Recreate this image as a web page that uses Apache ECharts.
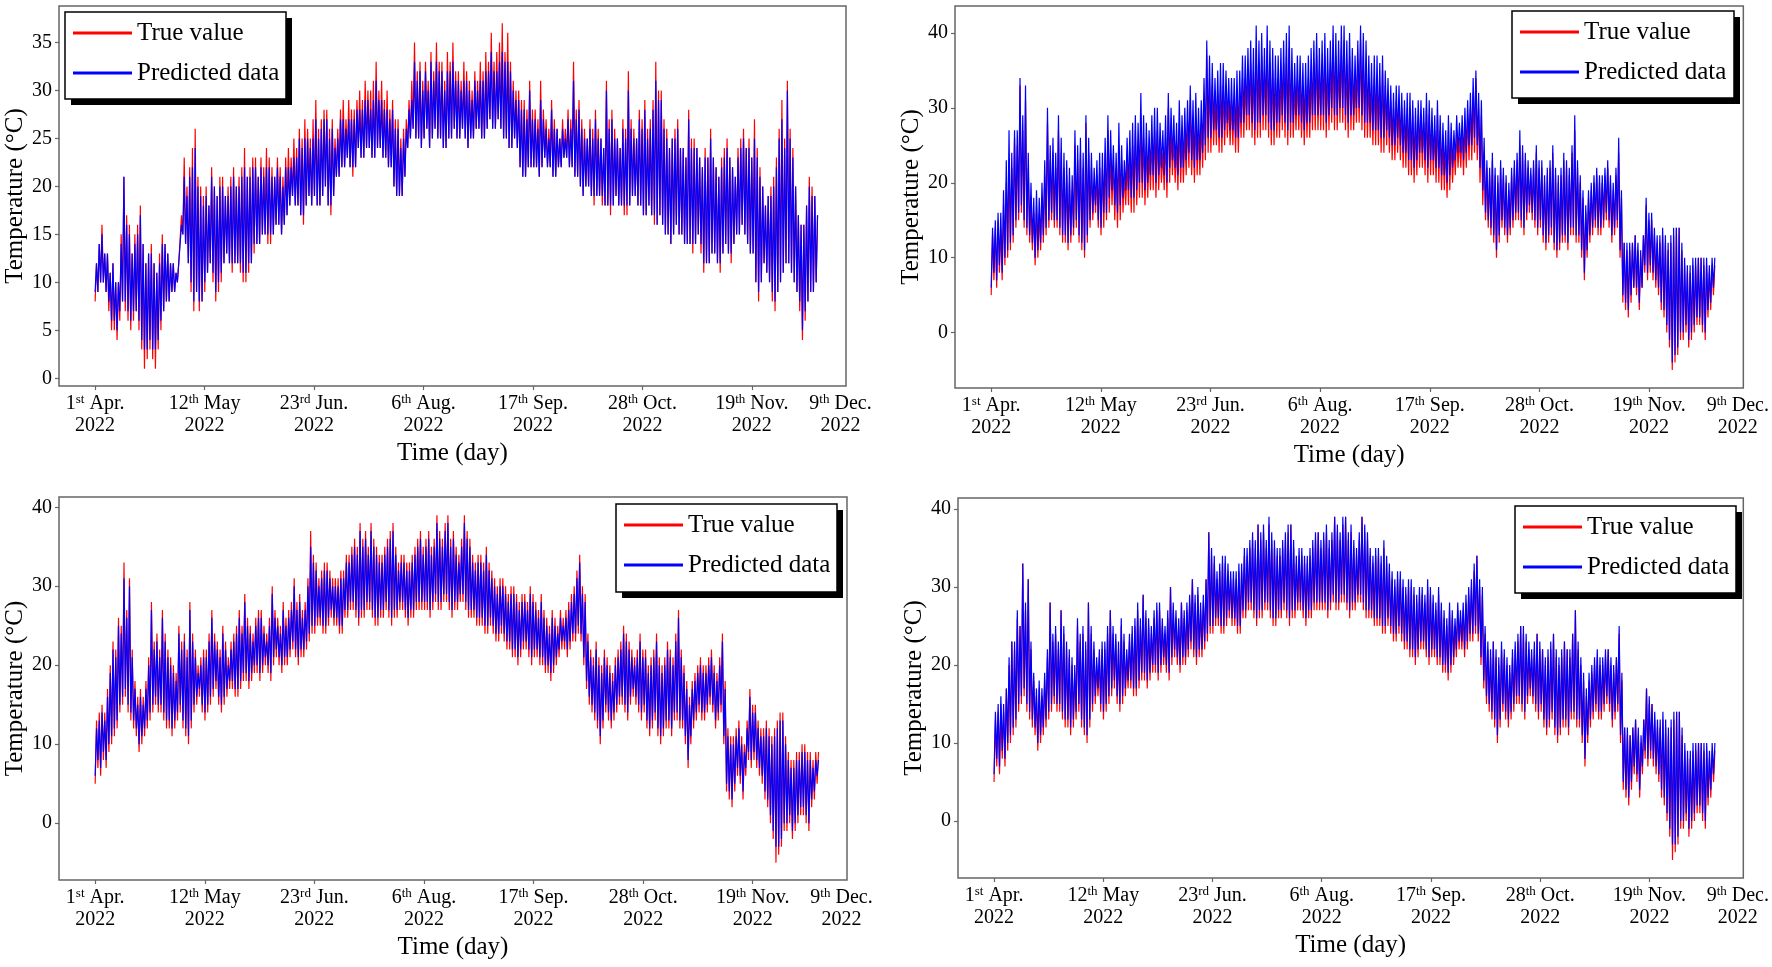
<!DOCTYPE html>
<html>
<head>
<meta charset="utf-8">
<title>True value vs predicted data</title>
<script src="https://cdn.jsdelivr.net/npm/echarts@6/dist/echarts.min.js"></script>
<style>
html, body { margin: 0; padding: 0; background: #fff; }
#chart { width: 1772px; height: 967px; }
</style>
</head>
<body>
<div id="chart"></div>
<script>
// x is in units of 1000 samples; ticks sit on whole units
const xTickPos = [0, 1, 2, 3, 4, 5, 6];
const xLabelPos = [0, 1, 2, 3, 4, 5, 6, 6.81];
const xLabelDay = ['1', '12', '23', '6', '17', '28', '19', '9'];
const xLabelSup = ['st', 'th', 'rd', 'th', 'th', 'th', 'th', 'th'];
const xLabelMonth = ['Apr.', 'May', 'Jun.', 'Aug.', 'Sep.', 'Oct.', 'Nov.', 'Dec.'];
const xLabelYear = '2022';
const yTicksA = [0, 5, 10, 15, 20, 25, 30, 35];
const yTicksB = [0, 10, 20, 30, 40];
const SPAN = 6.6; // position of the last sample

// daily highs / lows, one line per 1000 samples
// panel 1 (top left)
const trueA_hi = [
  12,14,16,13,13,11,12,10,10,15,21,17,16,13,15,16,18,14,12,13,14,12,11,13,15,14,13,12,12,11,12,17,23,20,22,24,26,21,20,19,
  20,18,22,20,19,21,21,19,20,21,22,20,21,22,24,21,22,23,23,21,23,22,24,23,22,21,23,22,21,23,24,23,25,24,26,25,27,26,25,27,
  29,26,27,28,28,26,27,25,26,28,29,27,29,28,28,29,30,29,31,30,30,31,33,30,31,29,30,28,29,27,27,25,26,27,29,31,35,32,33,31,
  33,31,34,32,35,33,33,31,34,33,35,32,32,31,33,32,31,30,32,31,33,32,34,33,36,33,34,35,37,34,36,33,31,30,30,29,29,28,31,28,
  28,27,31,28,27,26,29,27,26,25,27,26,28,27,33,28,29,27,26,25,27,26,28,26,25,24,31,27,28,26,25,24,27,26,32,27,26,25,28,27,
  29,26,27,29,33,30,30,27,26,24,25,26,27,24,24,23,28,25,25,24,23,22,24,23,26,23,22,21,23,24,25,23,22,21,24,25,26,24,25,23,
  27,24,22,20,18,19,20,21,23,26,29,25,31,26,24,20,17,16,16,18,21,20,19,17
];
const trueA_lo = [
  8,9,10,10,9,7,5,5,4,6,8,7,6,5,6,7,5,3,1,2,3,2,1,3,5,7,8,8,9,9,10,12,15,14,12,9,7,9,7,8,
  9,11,12,10,8,9,10,12,13,12,11,12,12,11,10,10,11,12,13,14,14,15,15,14,14,15,16,16,15,16,17,18,19,18,18,17,16,18,19,18,
  19,18,18,19,20,18,17,19,21,21,22,22,23,22,21,22,24,23,23,24,24,23,23,24,24,23,23,22,22,20,19,19,19,21,24,25,26,25,25,24,
  25,26,24,25,26,25,25,24,24,25,25,26,25,25,26,25,24,25,25,26,26,25,25,26,27,26,26,27,26,25,25,24,24,25,24,22,21,21,22,22,
  22,22,21,22,23,22,22,21,21,22,22,23,23,22,22,21,21,20,19,20,20,19,18,19,19,18,18,18,17,18,19,18,18,17,17,18,19,19,18,18,
  17,17,18,17,16,16,17,16,15,15,14,15,16,15,15,14,14,14,13,14,15,13,11,12,12,13,13,12,11,13,14,13,12,14,15,15,16,15,14,13,
  13,10,8,10,12,11,10,8,7,9,10,11,12,12,11,10,9,7,4,6,8,9,9,10
];
const pred1_hi = [
  12,14,15,13,13,11,12,10,10,14,21,16,15,13,14,15,17,14,12,13,13,12,11,12,14,14,13,12,12,11,12,16,21,19,21,22,24,20,19,18,
  19,18,21,20,19,20,20,19,19,20,21,20,20,21,22,21,21,22,22,21,22,21,22,22,21,21,22,21,20,22,22,22,23,23,25,24,25,25,24,25,
  27,25,26,27,27,25,26,24,25,27,27,26,27,27,27,28,28,28,29,29,28,29,31,29,29,28,28,27,28,26,26,24,25,26,28,29,33,31,32,30,
  32,30,33,31,33,32,32,30,32,32,33,31,31,30,31,31,30,29,31,30,31,31,32,32,34,32,32,33,34,33,33,32,30,29,29,28,28,27,30,27,
  27,26,29,27,26,25,28,26,26,25,26,25,27,26,31,27,28,26,25,25,26,25,27,25,25,24,30,26,27,25,25,24,26,25,30,26,25,25,27,26,
  28,25,26,28,31,29,29,26,25,24,25,25,26,24,24,23,27,24,24,24,23,22,23,23,25,23,22,21,22,23,24,23,22,21,23,24,25,24,24,23,
  25,23,21,20,18,19,19,20,22,25,27,24,30,25,23,20,17,16,16,18,20,19,19,17
];
const pred1_lo = [
  9,9,10,10,9,8,6,6,5,7,8,8,7,6,7,7,6,4,3,3,4,3,3,4,6,7,8,8,9,9,10,12,15,14,12,10,8,9,8,8,
  10,11,12,11,9,10,11,12,13,12,12,12,12,12,11,11,12,12,14,14,14,15,15,15,15,15,16,16,15,16,17,18,19,18,18,17,17,18,19,18,
  19,18,18,19,20,18,18,19,21,21,22,22,23,22,22,22,24,23,23,24,24,23,23,24,24,23,23,22,22,20,19,19,19,21,24,25,26,25,25,24,
  25,26,24,25,26,25,25,24,24,25,25,26,25,25,26,25,24,25,25,26,26,25,25,26,27,26,26,27,26,25,25,24,24,25,24,22,21,21,22,22,
  22,22,21,22,23,22,22,21,21,22,22,23,23,22,22,21,21,20,19,20,20,19,19,19,19,19,18,18,18,18,19,18,18,18,18,18,19,19,18,18,
  17,17,18,17,17,16,17,16,15,15,14,15,16,15,15,14,14,14,14,14,15,14,12,12,12,13,13,12,12,13,14,13,13,14,15,15,16,15,14,13,
  13,10,9,10,12,11,10,9,8,9,10,11,12,12,11,10,9,8,5,7,8,9,9,10
];

// panels 2-4 share the same measured series
const trueB_hi = [
  13,14,15,14,17,20,23,22,26,25,33,27,31,22,18,16,17,16,18,21,28,23,24,22,27,24,22,21,20,19,25,23,24,22,28,24,22,20,21,22,
  22,24,27,24,23,22,25,23,21,23,24,25,27,25,29,26,25,24,26,27,27,25,24,26,30,27,26,25,28,26,27,28,31,28,29,27,28,31,37,34,
  33,31,32,33,33,32,31,31,31,32,32,34,34,35,36,35,38,36,37,35,38,36,35,34,34,35,36,37,38,35,33,34,34,33,33,34,35,36,37,35,
  36,37,35,36,39,37,36,38,39,36,37,35,34,36,39,37,36,34,33,34,34,33,35,33,32,31,30,31,31,30,29,30,30,29,28,29,29,28,30,29,
  28,27,29,27,26,25,27,26,25,27,26,27,28,29,30,32,34,30,29,24,22,21,23,21,20,22,21,20,19,21,22,23,25,24,23,22,21,22,24,22,
  22,20,21,22,24,21,20,21,23,22,21,24,27,22,20,18,16,18,19,20,21,20,20,21,22,20,19,21,24,18,12,11,11,12,13,11,10,13,17,15,
  15,13,12,12,13,12,11,12,13,14,14,11,9,8,8,9,9,10,10,9,9,8,9,9
];
const trueB_lo = [
  5,7,6,8,7,9,10,11,12,14,15,16,14,13,12,11,9,10,11,12,13,14,15,14,14,13,12,12,11,12,13,14,12,11,10,12,14,15,16,14,
  13,14,15,16,17,15,14,15,16,17,17,16,16,17,18,18,17,18,19,19,18,19,20,19,18,20,21,20,19,20,20,21,22,21,20,21,21,22,23,24,
  24,25,25,24,24,25,26,25,25,24,24,26,26,27,27,26,25,26,26,27,27,26,25,25,26,26,27,26,25,26,26,27,27,26,25,26,26,27,27,27,
  27,27,26,27,28,27,27,28,28,27,26,27,27,28,28,27,26,26,26,25,25,25,24,24,25,24,23,23,24,23,22,22,21,21,20,21,22,22,21,20,
  21,21,20,20,19,19,18,19,20,21,22,22,21,22,23,23,24,23,20,17,15,14,13,12,10,12,14,13,12,13,14,15,15,14,13,15,16,15,14,13,
  14,12,11,12,13,11,10,11,12,12,11,13,13,12,12,10,7,10,12,13,14,13,13,14,15,14,12,13,14,10,4,3,2,4,6,5,3,6,8,7,
  8,7,6,5,3,2,0,-2,-5,-4,-3,-1,-1,0,-2,-1,0,1,1,0,-1,2,3,5
];
// panel 2 (top right)
const pred2_hi = [
  14,15,16,16,19,23,27,24,27,27,34,29,33,24,20,18,19,18,20,23,30,25,26,24,29,26,24,23,22,21,27,25,26,24,29,26,24,22,23,24,
  24,26,29,27,25,24,28,25,23,26,27,28,29,28,32,29,28,27,29,30,30,28,27,29,32,30,29,28,31,29,30,31,33,31,32,30,31,34,39,37,
  36,34,35,36,36,35,34,34,34,35,35,37,37,38,39,38,41,39,40,38,41,39,38,37,37,38,39,40,41,38,36,37,37,36,36,37,38,39,40,38,
  39,40,38,39,41,40,39,41,41,39,40,38,37,39,41,40,39,37,36,37,37,36,37,35,34,33,32,33,33,32,31,32,32,31,30,31,31,30,32,31,
  30,29,31,29,28,27,29,28,27,29,28,29,30,31,32,34,35,32,31,26,23,22,24,22,21,23,22,21,20,22,23,24,27,25,24,23,22,23,25,23,
  23,21,22,23,25,22,21,22,24,23,22,25,29,23,21,19,17,19,20,21,22,21,21,22,23,21,20,22,26,19,12,12,12,12,13,12,11,13,18,16,
  16,14,13,13,14,13,12,13,14,14,14,12,10,9,9,10,10,10,10,10,10,9,10,10
];
const pred2_lo = [
  6,8,7,9,8,10,11,12,13,15,16,17,15,14,13,12,10,11,12,13,14,15,16,15,15,14,13,13,12,13,14,15,13,12,11,13,15,16,17,15,
  14,16,16,18,19,17,16,17,18,19,19,18,18,19,20,20,19,20,21,21,20,21,22,21,20,22,23,22,21,22,22,23,24,23,22,23,23,24,25,26,
  26,27,27,26,26,27,28,27,27,26,26,28,28,29,29,28,27,28,28,29,29,28,27,27,28,28,29,28,27,28,28,29,29,28,27,28,28,29,29,29,
  29,29,28,29,30,29,29,30,30,29,28,29,29,30,30,29,28,28,28,27,27,27,26,26,27,26,25,25,26,25,24,24,23,23,22,23,24,24,23,22,
  23,23,22,22,21,21,20,21,22,23,24,24,23,24,25,25,26,25,22,19,16,15,14,13,11,13,15,14,13,14,15,16,16,15,14,16,17,16,15,14,
  15,13,12,13,14,12,11,12,13,13,12,14,14,13,13,11,8,11,13,14,15,14,14,15,16,15,13,14,15,11,5,4,3,5,6,6,4,6,9,8,
  9,8,7,6,4,3,1,-1,-4,-3,-2,0,0,1,-1,0,1,2,2,1,0,3,4,6
];
// panel 3 (bottom left)
const pred3_hi = [
  12,13,14,13,16,19,22,21,25,24,31,26,30,21,17,15,16,15,17,20,27,22,23,21,26,23,21,20,19,18,24,22,23,21,27,23,21,19,20,21,
  21,23,26,23,22,21,24,22,20,22,23,24,26,24,28,25,24,23,25,26,26,24,23,25,29,26,25,24,27,25,26,27,30,27,28,26,27,30,35,33,
  32,30,31,32,32,31,30,30,30,31,31,33,33,34,35,34,37,35,36,34,37,35,34,33,33,34,35,36,37,34,32,33,33,32,32,33,34,35,36,34,
  35,36,34,35,38,36,35,37,38,35,36,34,33,35,38,36,35,33,32,33,33,32,34,32,31,30,29,30,30,29,28,29,29,28,27,28,28,27,29,28,
  27,26,28,26,25,24,26,25,24,26,25,26,27,28,29,31,33,29,28,23,21,20,22,20,19,21,20,19,18,20,21,22,24,23,22,21,20,21,23,21,
  21,19,20,21,23,20,19,20,22,21,20,23,26,21,19,17,15,17,18,19,20,19,19,20,21,19,18,20,23,17,11,10,10,11,12,10,9,12,16,14,
  14,12,11,11,12,11,10,11,12,13,13,10,8,7,7,8,8,9,9,8,8,7,8,8
];
const pred3_lo = [
  6,8,7,9,8,10,11,12,13,15,16,17,15,14,13,12,10,11,12,13,14,15,16,15,15,14,13,13,12,13,14,15,13,12,11,13,15,16,17,15,
  14,15,16,17,18,16,15,16,17,18,18,17,17,18,19,19,18,19,20,20,19,20,21,20,19,21,22,21,20,21,21,22,23,22,21,22,22,23,24,25,
  25,26,26,25,25,26,27,26,26,25,25,27,27,28,28,27,26,27,27,28,28,27,26,26,27,27,28,27,26,27,27,28,28,27,26,27,27,28,28,28,
  28,28,27,28,29,28,28,29,29,28,27,28,28,29,29,28,27,27,27,26,26,26,25,25,26,25,24,24,25,24,23,23,22,22,21,22,23,23,22,21,
  22,22,21,21,20,20,19,20,21,22,23,23,22,23,24,24,25,24,21,18,16,15,14,13,11,13,15,14,13,14,15,16,16,15,14,16,17,16,15,14,
  15,13,12,13,14,12,11,12,13,13,12,14,14,13,13,11,8,11,13,14,15,14,14,15,16,15,13,14,15,11,5,4,3,5,7,6,4,7,9,8,
  9,8,7,6,4,3,1,-1,-3,-3,-2,0,0,1,-1,0,1,2,2,1,0,3,4,6
];
// panel 4 (bottom right); its lows read the same as panel 3
const pred4_hi = [
  14,15,16,15,17,21,23,23,27,25,33,28,31,23,19,17,18,17,19,22,28,24,25,23,27,25,23,22,21,20,26,24,25,23,28,25,23,21,22,23,
  23,25,27,25,24,23,26,24,22,24,25,26,28,26,29,27,26,25,27,28,28,26,25,27,30,28,27,26,28,27,28,29,31,29,30,28,29,31,37,35,
  34,32,33,34,34,33,32,32,32,33,33,35,35,36,37,36,38,37,38,36,39,37,36,35,35,36,37,38,38,36,34,35,35,34,34,35,36,37,37,36,
  37,38,36,37,39,38,37,39,39,37,38,36,35,37,39,38,37,35,34,35,35,34,36,34,33,32,31,32,32,31,30,31,31,30,29,30,30,29,31,30,
  29,28,30,28,27,26,28,27,26,28,27,28,29,30,31,33,34,31,30,25,23,22,23,22,21,23,22,21,20,22,23,24,25,25,24,23,22,23,24,23,
  22,21,22,23,24,22,21,22,23,22,22,24,27,23,21,19,17,19,20,21,22,21,21,22,22,21,20,21,25,19,12,12,11,12,13,12,11,13,17,16,
  15,14,13,13,14,13,12,13,14,14,14,12,10,9,9,10,10,10,10,10,10,9,10,10
];
const pred4_lo = pred3_lo;

const FONT = 'Liberation Serif';

// low, high, low, high ... spread evenly along the sample axis
function zigzag(lo, hi) {
  const n = lo.length * 2;
  const out = [];
  for (let i = 0; i < lo.length; i++) {
    out.push([(2 * i) * SPAN / (n - 1), lo[i]]);
    out.push([(2 * i + 1) * SPAN / (n - 1), hi[i]]);
  }
  return out;
}

function xLabel(v) {
  for (let i = 0; i < xLabelPos.length; i++) {
    if (Math.abs(xLabelPos[i] - v) < 0.01) {
      return '{n|' + xLabelDay[i] + '}{s|' + xLabelSup[i] + '}{n| ' + xLabelMonth[i] + '}\n{n|' + xLabelYear + '}';
    }
  }
  return '';
}

const panels = [
  { grid: { left: 59, top: 6, width: 787, height: 380 }, y: [-0.8, 38.8], ticks: yTicksA,
    box: [65, 12, 221, 87], truth: [trueA_lo, trueA_hi], pred: [pred1_lo, pred1_hi] },
  { grid: { left: 955, top: 6, width: 790, height: 382 }, y: [-7.4, 43.6], ticks: yTicksB,
    box: [1512, 11, 222, 87], truth: [trueB_lo, trueB_hi], pred: [pred2_lo, pred2_hi] },
  { grid: { left: 59, top: 497, width: 788, height: 383 }, y: [-7.2, 41.3], ticks: yTicksB,
    box: [616, 504, 221, 88], truth: [trueB_lo, trueB_hi], pred: [pred3_lo, pred3_hi] },
  { grid: { left: 958, top: 498, width: 787, height: 380 }, y: [-7.3, 41.4], ticks: yTicksB,
    box: [1515, 506, 221, 87], truth: [trueB_lo, trueB_hi], pred: [pred4_lo, pred4_hi] }
];

const option = {
  backgroundColor: '#fff',
  animation: false,
  grid: [], xAxis: [], yAxis: [], legend: [], series: [], graphic: []
};

panels.forEach((p, i) => {
  const [bx, by, bw, bh] = p.box;
  option.grid.push(Object.assign({ show: true, borderColor: '#666', borderWidth: 1.5 }, p.grid));
  option.xAxis.push({
    type: 'value', gridIndex: i, min: -0.33, max: 6.86,
    name: 'Time (day)', nameLocation: 'middle', nameGap: 55,
    nameTextStyle: { fontFamily: FONT, fontSize: 25, color: '#000' },
    axisLine: { show: false, onZero: false },
    splitLine: { show: false },
    axisTick: { show: true, inside: false, length: 4, customValues: xTickPos, lineStyle: { color: '#666', width: 1.2 } },
    axisLabel: {
      customValues: xLabelPos, margin: 7, formatter: xLabel,
      rich: {
        n: { fontFamily: FONT, fontSize: 20, color: '#000', lineHeight: 22 },
        s: { fontFamily: FONT, fontSize: 13, color: '#000', lineHeight: 13, verticalAlign: 'top' }
      }
    }
  });
  option.yAxis.push({
    type: 'value', gridIndex: i, min: p.y[0], max: p.y[1],
    name: 'Temperature (\u00B0C)', nameLocation: 'middle', nameGap: 30, nameRotate: 90,
    nameTextStyle: { fontFamily: FONT, fontSize: 25, color: '#000' },
    axisLine: { show: false, onZero: false },
    splitLine: { show: false },
    axisTick: { show: true, length: 4, customValues: p.ticks, lineStyle: { color: '#666', width: 1.2 } },
    axisLabel: { customValues: p.ticks, margin: 7, fontFamily: FONT, fontSize: 20, color: '#000' }
  });
  // legend frame with a hard black drop shadow
  option.graphic.push(
    { type: 'rect', z: 50, shape: { x: bx + 6, y: by + 6, width: bw, height: bh }, style: { fill: '#000' } },
    { type: 'rect', z: 51, shape: { x: bx, y: by, width: bw, height: bh }, style: { fill: '#fff', stroke: '#000', lineWidth: 1.5 } }
  );
  option.legend.push({
    left: bx + 8, top: by + 7, z: 100, padding: 0,
    orient: 'vertical', data: ['True value', 'Predicted data'], selectedMode: false,
    icon: 'rect', itemWidth: 59, itemHeight: 3, itemGap: 12,
    textStyle: { fontFamily: FONT, fontSize: 25, color: '#000', lineHeight: 28 }
  });
  option.series.push({
    type: 'line', name: 'True value', xAxisIndex: i, yAxisIndex: i,
    data: zigzag(p.truth[0], p.truth[1]), symbol: 'none', showSymbol: false, silent: true,
    color: '#ff0000', lineStyle: { color: '#ff0000', width: 1.2 }
  });
  option.series.push({
    type: 'line', name: 'Predicted data', xAxisIndex: i, yAxisIndex: i,
    data: zigzag(p.pred[0], p.pred[1]), symbol: 'none', showSymbol: false, silent: true,
    color: '#0000ff', lineStyle: { color: '#0000ff', width: 1.2 }
  });
});

const chart = echarts.init(document.getElementById('chart'));
chart.setOption(option);
</script>
</body>
</html>
